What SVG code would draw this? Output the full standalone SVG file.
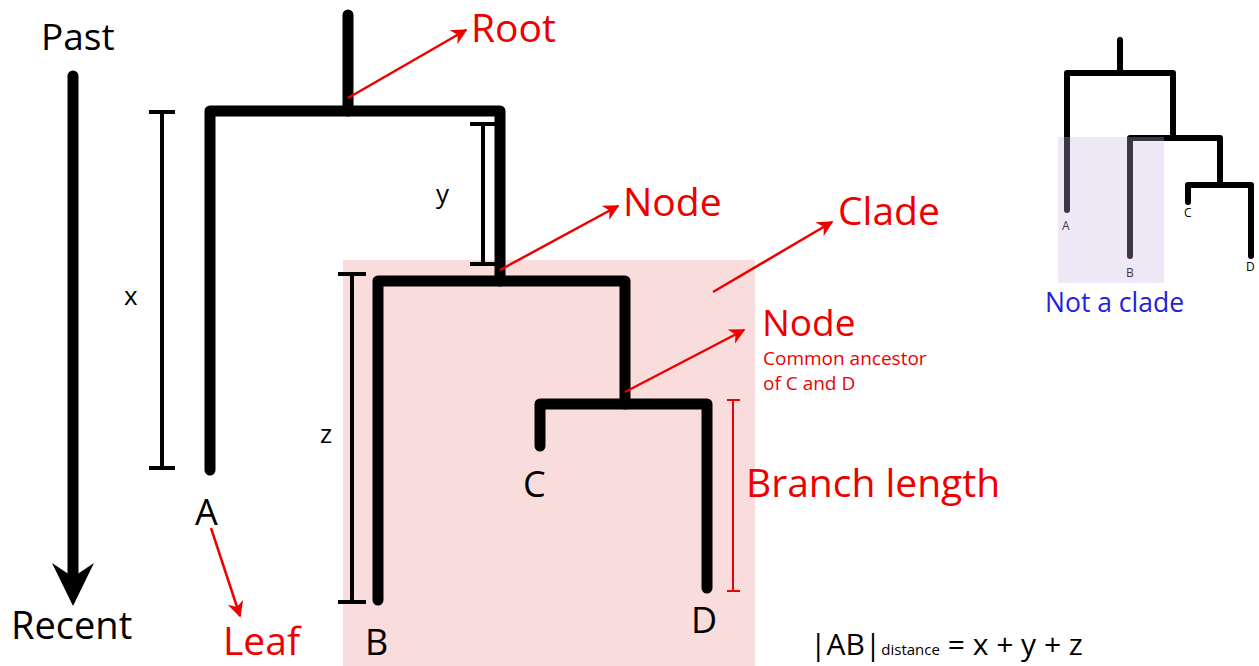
<svg xmlns="http://www.w3.org/2000/svg" width="1259" height="666" viewBox="0 0 1259 666">
<defs>
<style>
.br{fill:none;stroke:#000;stroke-width:11;stroke-linecap:round;stroke-linejoin:round}
.sb{fill:none;stroke:#000;stroke-width:6;stroke-linecap:round;stroke-linejoin:round}
.bk{fill:none;stroke:#000;stroke-width:4}
.rl{fill:none;stroke:#e00;stroke-width:2}
.ra{fill:none;stroke:#e00;stroke-width:2.5;marker-end:url(#ah)}
.t{font-family:"Open Sans","Liberation Sans",sans-serif;fill:#000}
.r{font-family:"Open Sans","Liberation Sans",sans-serif;fill:#e00}
</style>
<marker id="ah" viewBox="0 0 10 10" refX="9" refY="5" markerWidth="16" markerHeight="16" orient="auto" markerUnits="userSpaceOnUse">
<path d="M0,0 L10,5 L0,10 L3,5 Z" fill="#e00"/>
</marker>
</defs>
<rect id="clade-box" x="343" y="260" width="412" height="406" fill="#f9dcdc"/>
<g id="time-axis">
<text class="t" x="41" y="50" font-size="37">Past</text>
<line x1="73" y1="76" x2="73" y2="585" stroke="#000" stroke-width="11" stroke-linecap="round"/>
<path d="M52,563 L73,606 L94,563 L73,577 Z" fill="#000"/>
<text class="t" x="11" y="639" font-size="38">Recent</text>
</g>
<g id="tree">
<path class="br" d="M348,15 V111"/>
<path class="br" d="M210,470 V111 H500 V281"/>
<path class="br" d="M378,600 V281 H625 V404"/>
<path class="br" d="M540,446 V404 H707 V588"/>
</g>
<g id="brackets">
<path class="bk" d="M149,112 H175 M162,112 V468 M149,468 H175"/>
<text class="t" x="124" y="305" font-size="26">x</text>
<path class="bk" d="M470,124 H496 M483,124 V264 M470,264 H496"/>
<text class="t" x="436" y="203" font-size="26">y</text>
<path class="bk" d="M338,274 H366 M352,274 V602 M338,602 H366"/>
<text class="t" x="320" y="443" font-size="26">z</text>
<path class="rl" d="M727,400 H740 M733,400 V591 M727,591 H740"/>
</g>
<g id="leaves">
<text class="t" x="195" y="525" font-size="36">A</text>
<text class="t" x="365" y="655" font-size="36">B</text>
<text class="t" x="523" y="497" font-size="36">C</text>
<text class="t" x="691" y="633" font-size="36">D</text>
</g>
<g id="connectors">
<line class="ra" x1="348" y1="98" x2="466" y2="30"/>
<line class="ra" x1="500" y1="270" x2="618" y2="206"/>
<line class="ra" x1="713" y1="292" x2="832" y2="222"/>
<line class="ra" x1="625" y1="392" x2="744" y2="330"/>
<line class="ra" x1="211" y1="528" x2="240" y2="616"/>
</g>
<g id="labels">
<text class="r" x="471" y="42" font-size="39">Root</text>
<text class="r" x="623" y="216" font-size="39">Node</text>
<text class="r" x="838" y="225" font-size="39">Clade</text>
<text class="r" x="762" y="336" font-size="37">Node</text>
<text class="r" x="763" y="365" font-size="19">Common ancestor</text>
<text class="r" x="763" y="390" font-size="19">of C and D</text>
<text class="r" x="746" y="497" font-size="39">Branch length</text>
<text class="r" x="223" y="655" font-size="39">Leaf</text>
</g>
<g id="formula">
<text class="t" x="810" y="655" font-size="30">|AB|<tspan font-size="15">distance</tspan> = x + y + z</text>
</g>
<g id="small-tree">
<path class="sb" d="M1120,40 V73"/>
<path class="sb" d="M1067,210 V73 H1173 V138"/>
<path class="sb" d="M1130,256 V138 H1220 V185"/>
<path class="sb" d="M1188,202 V185 H1251 V256"/>
<text class="t" x="1062" y="230" font-size="12" fill="#333">A</text>
<text class="t" x="1126" y="277" font-size="12" fill="#333">B</text>
<text class="t" x="1184" y="217" font-size="12" fill="#333">C</text>
<text class="t" x="1246" y="271" font-size="12" fill="#333">D</text>
<rect x="1058" y="137" width="106" height="146" fill="#c8b4e6" fill-opacity="0.3"/>
<text x="1045" y="312" font-size="26.5" fill="#2222dd" font-family="Open Sans,Liberation Sans,sans-serif">Not a clade</text>
</g>
</svg>
